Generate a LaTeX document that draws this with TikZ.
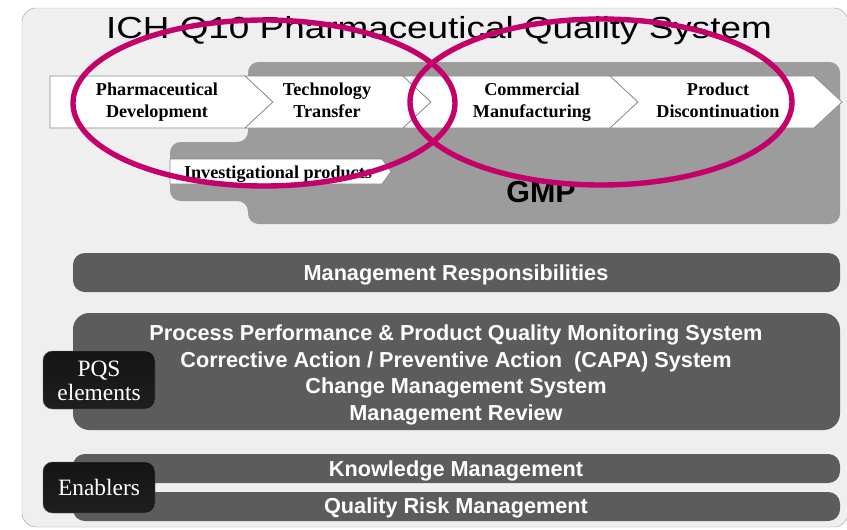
\documentclass[tikz,border=0pt]{standalone}
\usepackage{fontspec}
\setmainfont{Liberation Serif}
\setsansfont{Liberation Sans}
\usepackage{graphicx}
\usepackage{tikz}
\definecolor{PQSPanel}{HTML}{EFEFEF}
\definecolor{PQSFrame}{HTML}{A8A8A8}
\definecolor{GMPGrey}{HTML}{9C9C9C}
\definecolor{BarGrey}{HTML}{5C5C5C}
\definecolor{StageLine}{HTML}{8A8A8A}
\definecolor{HiliteRing}{HTML}{C4006B}

\tikzset{
  stage/.style={fill=white, draw=StageLine, line width=0.6pt},
  stagetext/.style={font=\fontsize{15.5}{18.7}\selectfont\bfseries, align=center, inner sep=0pt},
  bar/.style={fill=BarGrey, rounded corners=10pt},
  bartext/.style={color=white, font=\sffamily\bfseries\fontsize{18.5}{22.7}\selectfont, align=center, inner sep=0pt},
  tag/.style={draw=black!60, rounded corners=8pt, top color=black!92, middle color=black, bottom color=black!88},
  tagtext/.style={color=white, font=\fontsize{20}{21}\selectfont, align=center, inner sep=0pt},
  ring/.style={draw=HiliteRing, line width=4.6pt},
}

\begin{document}
\begin{tikzpicture}[x=0.03cm, y=-0.03cm]
  \useasboundingbox (0,0) rectangle (847,529);
  \fill[white] (0,0) rectangle (847,529);
  \draw[PQSFrame, fill=PQSPanel, rounded corners=12pt] (22,8) rectangle (848,527);

  \node[font=\sffamily\fontsize{26}{30}\selectfont, anchor=base, inner sep=0pt] (title) at (439,38)
    {\scalebox{1.21}[1]{ICH Q10 Pharmaceutical Quality System}};

  % GMP block with the investigational step
  \fill[GMPGrey, rounded corners=9pt] (248,62) -- (840,62) -- (840,224) -- (248,224)
    -- (248,201) -- (170,201) -- (170,142) -- (248,142) -- cycle;

  % lifecycle chevrons
  \filldraw[stage] (50,76) -- (245,76) -- (273,102) -- (245,128) -- (50,128) -- cycle;
  \foreach \a/\b in {245/403, 403/610, 610/814}
    \filldraw[stage] (\a,76) -- (\b,76) -- (\b+28,102) -- (\b,128) -- (\a,128) -- (\a+28,102) -- cycle;
  \filldraw[stage] (170,159) -- (382,159) -- (391,171.5) -- (382,184) -- (170,184) -- cycle;

  \node[stagetext] (pharmdev) at (157,102) {\strut Pharmaceutical\\\strut Development};
  \node[stagetext] (techtransfer) at (327,102) {\strut Technology\\\strut Transfer};
  \node[stagetext] (commercial) at (532,102) {\strut Commercial\\\strut Manufacturing};
  \node[stagetext] (discontinue) at (718,102) {\strut Product\\\strut Discontinuation};
  \node[stagetext, anchor=base] (invprod) at (278,178) {Investigational products};
  \node[font=\sffamily\bfseries\fontsize{26}{28}\selectfont, anchor=base, inner sep=0pt] (gmp) at (541,202) {GMP};

  % PQS bars
  \fill[bar] (73,253) rectangle (840,292);
  \node[bartext, anchor=base] (mgmtresp) at (456,280) {Management Responsibilities};
  \fill[bar, rounded corners=14pt] (73,313) rectangle (840,430);
  \node[bartext] (pqslist) at (456,375) {Process Performance \& Product Quality Monitoring System\\
    Corrective Action / Preventive Action~ (CAPA) System\\
    Change Management System\\
    Management Review};
  \fill[bar] (73,454) rectangle (840,483);
  \node[bartext, anchor=base] (knowmgmt) at (456,476) {Knowledge Management};
  \fill[bar] (73,492) rectangle (840,521);
  \node[bartext, anchor=base] (riskmgmt) at (456,513) {Quality Risk Management};

  \path[tag] (43,351) rectangle (155,409);
  \node[tagtext] (pqstag) at (99,381) {PQS\\elements};
  \path[tag] (43,462) rectangle (155,513);
  \node[tagtext, anchor=base] (enablertag) at (99,495) {Enablers};

  % highlight rings
  \draw[ring] (264,103) ellipse [x radius=191, y radius=83];
  \draw[ring] (601,102) ellipse [x radius=191, y radius=83];
\end{tikzpicture}
\end{document}
